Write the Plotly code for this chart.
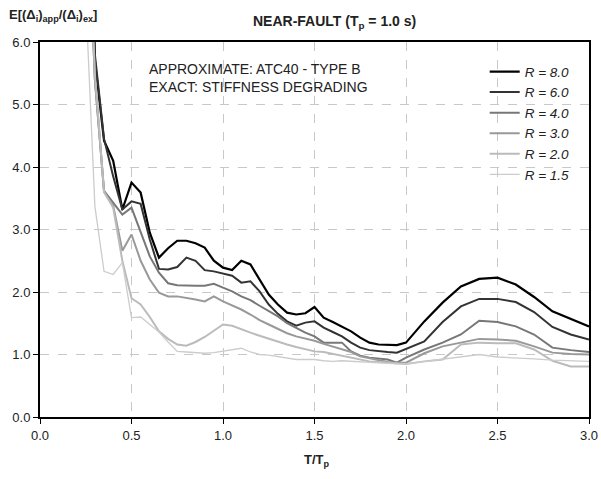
import plotly.graph_objects as go

# T/Tp sample points shared by all curves
t_ratio = [0.25, 0.3, 0.35, 0.4, 0.45, 0.5, 0.55, 0.6, 0.65, 0.7, 0.75, 0.8, 0.85, 0.9, 0.95,
           1.0, 1.05, 1.1, 1.15, 1.2, 1.25, 1.3, 1.35, 1.4, 1.45, 1.5, 1.55, 1.6, 1.65, 1.7,
           1.75, 1.8, 1.85, 1.9, 1.95, 2.0, 2.1, 2.2, 2.3, 2.4, 2.5, 2.6, 2.7, 2.8, 2.9, 3.0]

r_8_0 = [12.0, 5.7, 4.42, 4.1, 3.32, 3.75, 3.59, 2.95, 2.55, 2.7, 2.82, 2.82, 2.78, 2.71, 2.5,
         2.39, 2.35, 2.5, 2.44, 2.2, 1.96, 1.8, 1.67, 1.64, 1.66, 1.76, 1.59, 1.52, 1.45, 1.37,
         1.27, 1.19, 1.16, 1.15, 1.15, 1.19, 1.53, 1.83, 2.09, 2.21, 2.23, 2.12, 1.92, 1.69, 1.57, 1.45]
r_6_0 = [11.0, 5.8, 4.45, 3.85, 3.32, 3.45, 3.41, 2.84, 2.37, 2.36, 2.40, 2.55, 2.5, 2.35, 2.33,
         2.30, 2.26, 2.15, 2.17, 2.01, 1.8, 1.65, 1.53, 1.46, 1.51, 1.53, 1.43, 1.36, 1.29, 1.19,
         1.11, 1.07, 1.05, 1.04, 1.03, 1.09, 1.21, 1.52, 1.77, 1.89, 1.89, 1.84, 1.68, 1.44, 1.32, 1.24]
r_4_0 = [9.0, 5.4, 3.62, 3.42, 3.24, 3.35, 2.95, 2.57, 2.31, 2.14, 2.11, 2.10, 2.10, 2.10, 2.13,
         2.07, 2.01, 1.93, 1.87, 1.78, 1.70, 1.61, 1.50, 1.42, 1.35, 1.29, 1.19, 1.19, 1.19, 1.05,
         0.98, 0.95, 0.93, 0.92, 0.87, 0.95, 1.08, 1.19, 1.32, 1.54, 1.52, 1.45, 1.32, 1.11, 1.07, 1.04]
r_3_0 = [9.0, 5.4, 3.6, 3.38, 2.66, 2.92, 2.5, 2.2, 1.99, 1.93, 1.93, 1.91, 1.88, 1.85, 1.93,
         1.85, 1.79, 1.72, 1.64, 1.55, 1.48, 1.41, 1.34, 1.29, 1.26, 1.22, 1.17, 1.13, 1.09, 1.04,
         0.97, 0.94, 0.91, 0.88, 0.87, 0.87, 1.02, 1.13, 1.19, 1.25, 1.24, 1.22, 1.13, 1.03, 1.01, 1.0]
r_2_0 = [9.0, 5.5, 3.6, 3.35, 2.5, 1.9, 1.8, 1.6, 1.37, 1.25, 1.16, 1.14, 1.2, 1.28, 1.38,
         1.48, 1.46, 1.40, 1.35, 1.30, 1.25, 1.20, 1.16, 1.12, 1.08, 1.05, 1.04, 1.01, 0.98, 0.94,
         0.91, 0.89, 0.88, 0.87, 0.86, 0.85, 0.89, 0.92, 1.16, 1.19, 1.18, 1.18, 1.08, 0.90, 0.81, 0.81]
r_1_5 = [6.7, 3.37, 2.33, 2.28, 2.47, 1.59, 1.6, 1.48, 1.36, 1.2, 1.05, 1.04, 1.03, 1.02, 1.03,
         1.05, 1.08, 1.10, 1.04, 1.0, 0.99, 0.97, 0.94, 0.92, 0.92, 0.92, 0.90, 0.89, 0.9, 0.89,
         0.88, 0.87, 0.86, 0.85, 0.85, 0.85, 0.89, 0.93, 0.96, 1.0, 0.96, 0.95, 0.93, 0.91, 0.90, 0.89]

series = [
    ("R = 8.0", r_8_0, "#000000", 2.2),
    ("R = 6.0", r_6_0, "#333333", 2.0),
    ("R = 4.0", r_4_0, "#777777", 2.0),
    ("R = 3.0", r_3_0, "#999999", 2.0),
    ("R = 2.0", r_2_0, "#bbbbbb", 2.0),
    ("R = 1.5", r_1_5, "#cccccc", 1.3),
]

fig = go.Figure()
for name, vals, color, width in series:
    fig.add_trace(go.Scatter(x=t_ratio, y=vals, name=name, mode="lines",
                             line=dict(color=color, width=width)))

font = "Liberation Sans, Arial, sans-serif"
axis_style = dict(showline=True, mirror=True, linecolor="black", linewidth=2,
                  ticks="outside", ticklen=5, tickcolor="black",
                  showgrid=True, gridcolor="#c8c8c8", griddash="dash", gridwidth=1,
                  zeroline=False, tickfont=dict(family=font, size=13, color="#222"),
                  ticklabeloverflow="allow", automargin=False)

fig.update_layout(
    width=601, height=479,
    margin=dict(l=40, r=12, t=42, b=62),
    paper_bgcolor="white", plot_bgcolor="white",
    font=dict(family=font, color="#222"),
    showlegend=True,
    legend=dict(x=0.81, y=0.962, xanchor="left", yanchor="top",
                bgcolor="rgba(0,0,0,0)", tracegroupgap=0,
                font=dict(family=font, size=13.5, style="italic", color="#222")),
)
fig.update_xaxes(range=[0, 3], dtick=0.5, tickformat=".1f", **axis_style)
fig.update_yaxes(range=[0, 6], dtick=1, tickformat=".1f", **axis_style)

fig.add_annotation(text="<b>NEAR-FAULT (T<sub>p</sub> = 1.0 s)</b>", xref="paper", yref="paper",
                   x=0.537, y=1.053, xanchor="center", yanchor="middle", showarrow=False,
                   font=dict(family=font, size=14, color="#222"))
fig.add_annotation(text="<b>E[(Δ<sub>i</sub>)<sub>app</sub>/(Δ<sub>i</sub>)<sub>ex</sub>]</b>",
                   xref="paper", yref="paper", x=-0.06, y=1.07, xanchor="left",
                   yanchor="middle", showarrow=False, font=dict(family=font, size=13, color="#222"))
fig.add_annotation(text="<b>T/T<sub>p</sub></b>", xref="paper", yref="paper",
                   x=0.505, y=-0.115, xanchor="center", yanchor="middle", showarrow=False,
                   font=dict(family=font, size=13, color="#222"))
fig.add_annotation(text="APPROXIMATE: ATC40 - TYPE B<br>EXACT: STIFFNESS DEGRADING",
                   xref="paper", yref="paper", x=0.195, y=0.955, xanchor="left", yanchor="top",
                   align="left", showarrow=False, font=dict(family=font, size=14, color="#222"))

# drop the default 8px body margin so the 601x479 figure fills the window exactly
fig.write_html("out.html", config={"displayModeBar": False},
               post_script="document.body.style.margin='0';")
